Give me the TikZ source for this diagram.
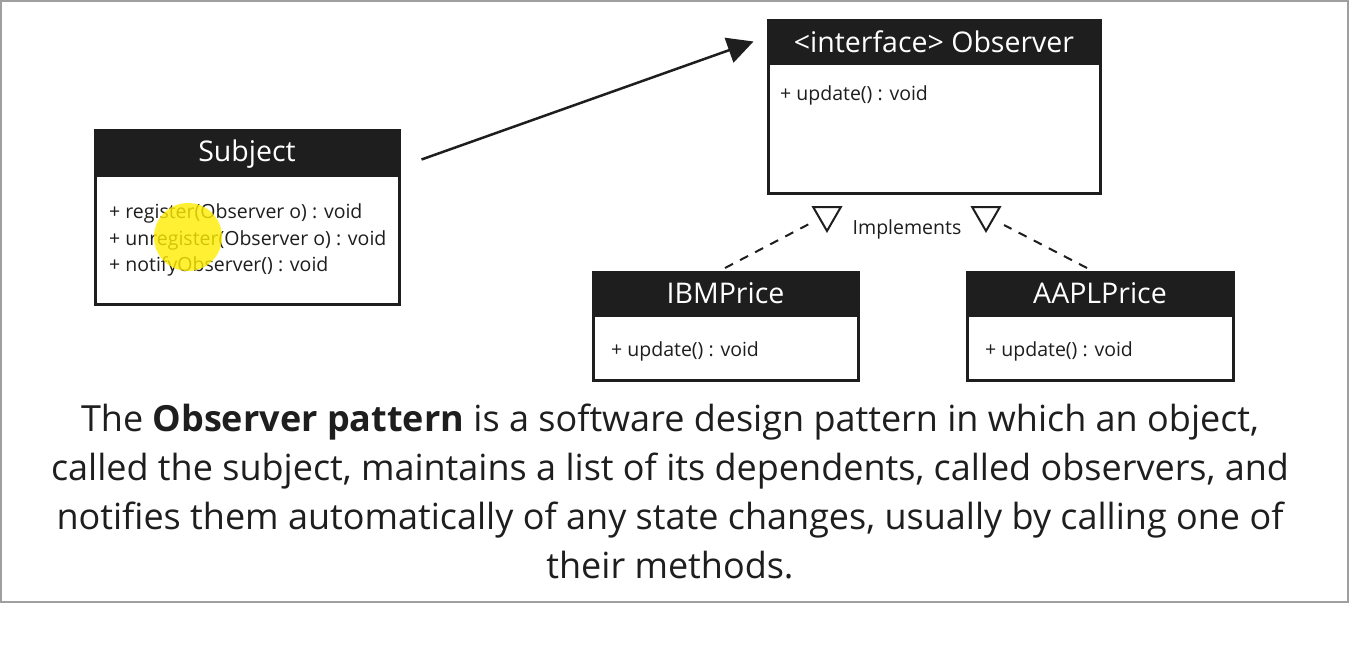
\documentclass[tikz,border=0pt]{standalone}
\usepackage{fontspec}
\setmainfont{Open Sans}
\usetikzlibrary{arrows.meta,shapes.geometric,calc}
\definecolor{ink}{HTML}{1E1E1E}
\tikzset{
  head/.style={draw=ink, fill=ink, text=white, line width=3, inner sep=0,
    font=\fontsize{28.5}{32}\selectfont},
  body/.style={draw=ink, fill=white, line width=3, inner sep=0},
  mtext/.style={text=ink, inner sep=0, anchor=west, align=left,
    font=\fontsize{19.5}{26.5}\selectfont},
  impl/.style={draw=ink, line width=2, regular polygon, regular polygon sides=3,
    shape border rotate=180, minimum size=32, inner sep=0},
  dashline/.style={draw=ink, line width=2, dash pattern=on 9 off 8},
}
\begin{document}
\begin{tikzpicture}[x=1pt,y=-1pt]
\useasboundingbox (0,0) rectangle (1353,657);
\fill[white] (0,0) rectangle (1353,657);
\draw[gray!75, line width=2] (1,1) rectangle (1348,602);

% Subject
\node[body, minimum width=304, minimum height=129] (subjb) at (247,239.5) {};
\node[head, minimum width=304, minimum height=45] (subjh) at (247,152.5) {};
\node[text=white, inner sep=0, font=\fontsize{28.5}{32}\selectfont] (subjt) at (247,154) {Subject};
\node[mtext] (subjm) at (109,240) {+ register(Observer o) : void\\+ unregister(Observer o) : void\\+ notifyObserver() : void};

% Observer
\node[body, minimum width=332, minimum height=130] (obsb) at (934,128) {};
\node[head, minimum width=332, minimum height=43] (obsh) at (934,41.5) {<interface> Observer};
\node[mtext] (obsm) at (780,95) {+ update() : void};

% IBMPrice
\node[body, minimum width=265, minimum height=65] (ibmb) at (725.5,347.5) {};
\node[head, minimum width=265, minimum height=43] (ibmh) at (725.5,293.5) {IBMPrice};
\node[mtext] (ibmm) at (611,351) {+ update() : void};

% AAPLPrice
\node[body, minimum width=266, minimum height=65] (aaplb) at (1100,347.5) {};
\node[head, minimum width=266, minimum height=43] (aaplh) at (1100,293.5) {AAPLPrice};
\node[mtext] (aaplm) at (985,351) {+ update() : void};

% association arrow
\coordinate (astart) at ($(subjh.east)+(21,7)$);
\draw[ink, line width=2.5, -{Triangle[length=26,width=26]}] (astart) -- ($(obsh.west)+(-13,0)$);

% implements
\node[impl] (t1) at (827,215) {};
\node[impl] (t2) at (986,215) {};
\node[text=ink, inner sep=0, font=\fontsize{19.5}{21}\selectfont] (implab) at (907,229) {Implements};
\coordinate (d1s) at (725,268);
\coordinate (d2s) at (1087,268);
\draw[dashline] (d1s) -- ($(t1.center)+(-16,8)$);
\draw[dashline] (d2s) -- ($(t2.center)+(18,10)$);

% cursor highlight
\fill[yellow!95!orange, opacity=0.8] (188,237) circle (34);

% paragraph
\node[text=ink, inner sep=0, align=center, font=\fontsize{36}{49}\selectfont] (para) at (670,491)
{The \textbf{Observer pattern} is a software design pattern in which an object,\\
called the subject, maintains a list of its dependents, called observers, and\\
notifies them automatically of any state changes, usually by calling one of\\
their methods.};
\end{tikzpicture}
\end{document}
